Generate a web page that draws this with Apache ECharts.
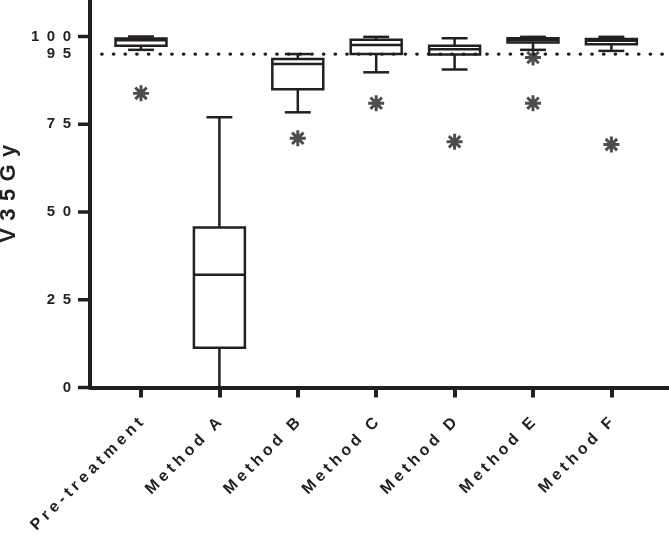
<!DOCTYPE html>
<html>
<head>
<meta charset="utf-8">
<title>V35Gy</title>
<script src="https://cdn.jsdelivr.net/npm/echarts@6/dist/echarts.min.js"></script>
<style>
html, body { margin: 0; padding: 0; background: #fff; }
#chart { width: 669px; height: 533px; }
</style>
</head>
<body>
<div id="chart"></div>
<script>
// box data per group
var categories = ["Pre-treatment", "Method A", "Method B", "Method C", "Method D", "Method E", "Method F"];
var mins    = [96.2, 0,    78.4, 89.8, 90.6, 96.2, 95.9];
var q1s     = [97.4, 11.3, 85.0, 95.0, 94.9, 98.3, 97.8];
var medians = [98.9, 32.1, 92.2, 97.6, 96.4, 99.0, 98.8];
var q3s     = [99.4, 45.6, 93.6, 99.1, 97.4, 99.5, 99.3];
var maxs    = [100,  77.0, 95.0, 99.9, 99.5, 99.9, 99.9];
// outliers: [category index, value]
var outliers = [[0, 83.8], [2, 71.0], [3, 81.0], [4, 70.0], [5, 94.0], [5, 81.0], [6, 69.2]];
var threshold = 95;
var extraLabels = [95];
var yTicks = [0, 25, 50, 75, 100];

var ink = "#231f20";
var font = "'Liberation Sans', Arial, sans-serif";
var yMax = 110.4;

function spaced(s, sep) {
  return String(s).split("").join(sep);
}

var boxData = categories.map(function (c, i) {
  return [i, mins[i], q1s[i], medians[i], q3s[i], maxs[i]];
});

// asterisk marker
var star = "path://M-1.3,-7L1.3,-7L1.3,7L-1.3,7Z" +
  "M-7,-1.3L7,-1.3L7,1.3L-7,1.3Z" +
  "M-4.08,-5.92L5.92,4.08L4.08,5.92L-5.92,-4.08Z" +
  "M-5.92,4.08L4.08,-5.92L5.92,-4.08L-4.08,5.92Z";

function renderBox(params, api) {
  var i = api.value(0);
  var band = api.size([1, 0])[0];
  var half = band * 0.325;
  var cap = band * 0.165;
  var pMin = api.coord([i, api.value(1)]);
  var pQ1 = api.coord([i, api.value(2)]);
  var pMed = api.coord([i, api.value(3)]);
  var pQ3 = api.coord([i, api.value(4)]);
  var pMax = api.coord([i, api.value(5)]);
  var x = pMed[0];
  var st = { stroke: ink, lineWidth: 2.5, fill: null };
  return {
    type: "group",
    children: [
      { type: "line", shape: { x1: x, y1: pQ3[1], x2: x, y2: pMax[1] }, style: st },
      { type: "line", shape: { x1: x, y1: pQ1[1], x2: x, y2: pMin[1] }, style: st },
      { type: "line", shape: { x1: x - cap, y1: pMax[1], x2: x + cap, y2: pMax[1] }, style: st },
      { type: "line", shape: { x1: x - cap, y1: pMin[1], x2: x + cap, y2: pMin[1] }, style: st },
      { type: "rect", shape: { x: x - half, y: pQ3[1], width: half * 2, height: pQ1[1] - pQ3[1] },
        style: { stroke: ink, lineWidth: 2.5, fill: "#fff" } },
      { type: "line", shape: { x1: x - half, y1: pMed[1], x2: x + half, y2: pMed[1] }, style: st }
    ]
  };
}

// y tick marks, placed through the y scale
function renderTick(params, api) {
  var p = api.coord([0, api.value(1)]);
  return {
    type: "line",
    shape: { x1: p[0] - 12, y1: p[1], x2: p[0], y2: p[1] },
    style: { stroke: ink, lineWidth: 3.5 }
  };
}

var labelStyle = {
  color: ink, fontSize: 15, fontWeight: "bold", fontFamily: font,
  formatter: function (v) { return spaced(v, "\u2002"); }
};

var chart = echarts.init(document.getElementById("chart"));
chart.setOption({
  animation: false,
  backgroundColor: "#fff",
  grid: [
    { left: 90, right: 0, top: 0, bottom: 145.5, outerBoundsMode: "none", containLabel: false },
    { left: 101.8, width: 548.8, top: 0, bottom: 145.5, outerBoundsMode: "none", containLabel: false }
  ],
  xAxis: [
    {
      gridIndex: 0, type: "value", min: 0, max: 1,
      axisLine: { show: true, lineStyle: { color: ink, width: 4 } },
      axisTick: { show: false }, axisLabel: { show: false }, splitLine: { show: false }
    },
    {
      gridIndex: 1, type: "category", data: categories, position: "bottom",
      axisLine: { show: false },
      axisTick: { show: true, alignWithLabel: true, length: 10, lineStyle: { color: ink, width: 4 } },
      axisLabel: {
        rotate: 45, margin: 33, interval: 0,
        color: ink, fontSize: 16, fontWeight: "bold", fontFamily: font,
        formatter: function (v) { return spaced(v, "\u2005"); }
      }
    }
  ],
  yAxis: [
    {
      gridIndex: 0, type: "value", min: 0, max: yMax, interval: 25,
      name: spaced("V35Gy", "\u2004"),
      nameLocation: "middle", nameGap: 64, nameRotate: 90,
      nameTextStyle: { color: ink, fontSize: 22, fontWeight: "bold", fontFamily: font },
      axisLine: { show: true, lineStyle: { color: ink, width: 4 } },
      axisTick: { show: false },
      axisLabel: Object.assign({ margin: 19, showMaxLabel: false }, labelStyle),
      splitLine: { show: false }
    },
    { gridIndex: 1, type: "value", min: 0, max: yMax, show: false },
    {
      // the 95 reference label, no tick
      gridIndex: 0, type: "value", min: 0, max: yMax, position: "left",
      axisLine: { show: false }, axisTick: { show: false }, splitLine: { show: false },
      axisLabel: Object.assign({ margin: 19, customValues: extraLabels }, labelStyle)
    }
  ],
  series: [
    {
      // dotted reference line across the whole plot
      type: "line", xAxisIndex: 0, yAxisIndex: 0, silent: true,
      showSymbol: false, symbol: "none",
      lineStyle: { color: ink, width: 3.3, type: [0.5, 11.17], cap: "round" },
      data: [[0, threshold], [1, threshold]]
    },
    {
      type: "custom", xAxisIndex: 0, yAxisIndex: 0, silent: true, clip: false,
      renderItem: renderTick,
      data: yTicks.map(function (v) { return [0, v]; })
    },
    {
      type: "custom", xAxisIndex: 1, yAxisIndex: 1,
      renderItem: renderBox,
      encode: { x: 0, y: [1, 2, 3, 4, 5] },
      data: boxData
    },
    {
      type: "scatter", xAxisIndex: 1, yAxisIndex: 1,
      symbol: star, symbolSize: 16,
      itemStyle: { color: ink },
      data: outliers
    }
  ]
});
</script>
</body>
</html>
